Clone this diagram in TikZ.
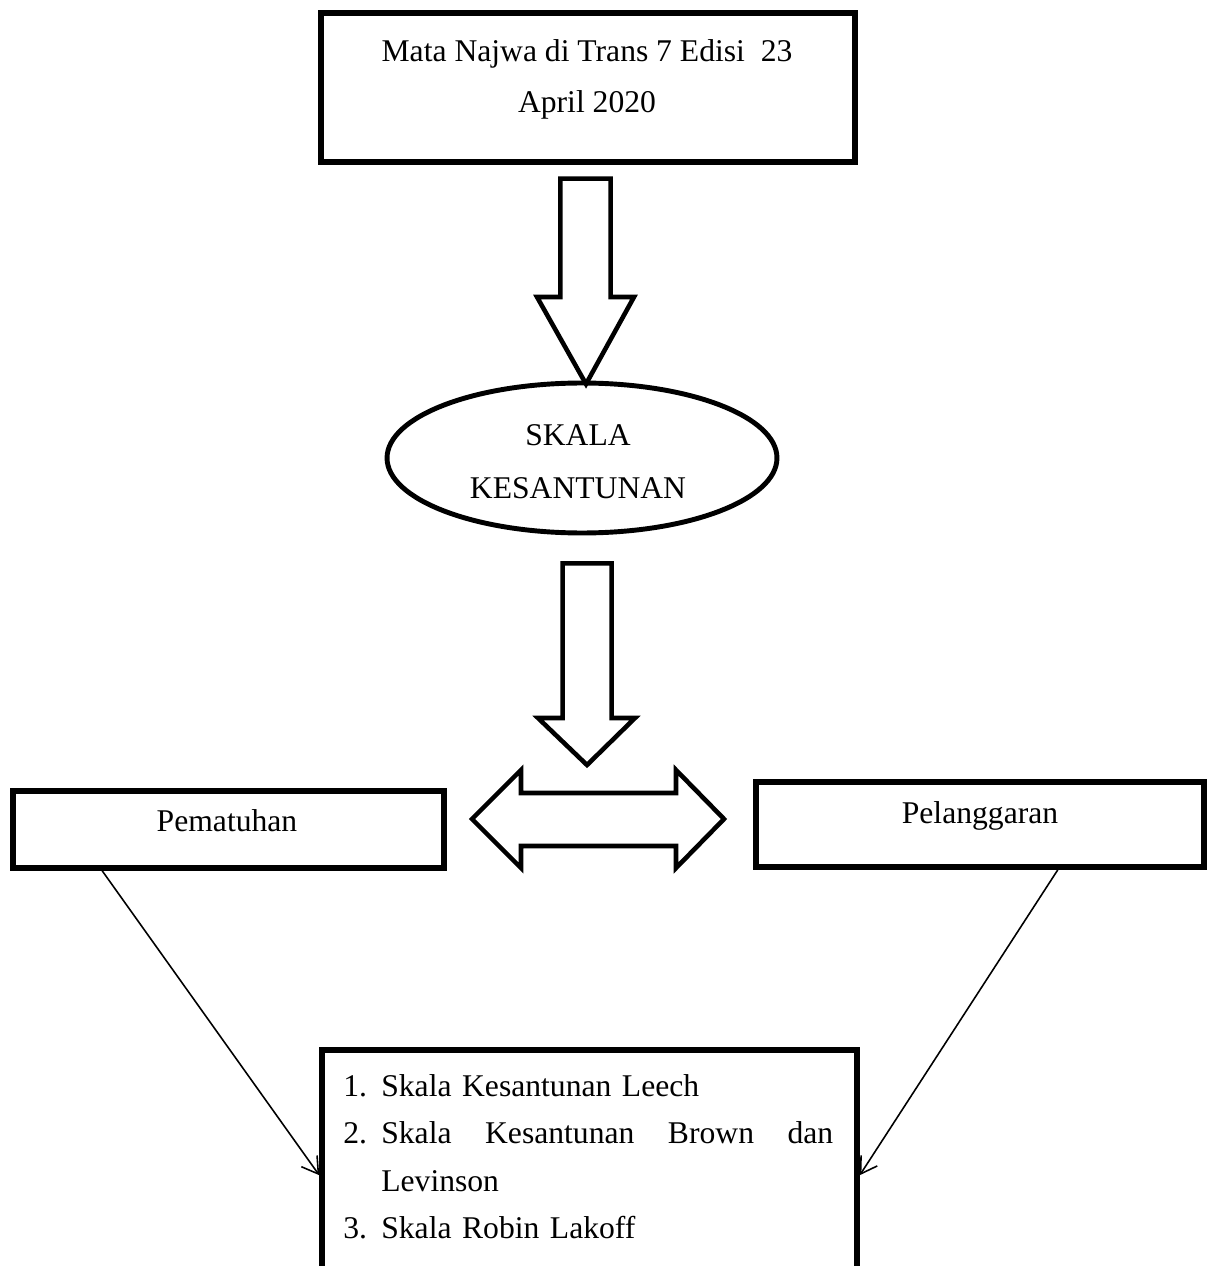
\documentclass[tikz,border=0pt]{standalone}
\usepackage{fontspec}
\setmainfont{Liberation Serif}
\usetikzlibrary{shapes.geometric,arrows.meta}
\begin{document}
\begin{tikzpicture}[x=0.02cm, y=-0.02cm, font=\fontsize{18}{25}\selectfont,
  kotak/.style={draw, line width=3.2pt, inner sep=0pt},
  panah/.style={draw, line width=2.6pt},
  garis/.style={line width=0.9pt, -{Straight Barb[length=9pt, width=11pt]}}]
\useasboundingbox (0,0) rectangle (1214,1266);
\clip (0,0) rectangle (1214,1266);
% sumber data
\node[kotak, minimum width=10.68cm, minimum height=2.98cm] (sumber) at (588,87.5) {};
\node[anchor=north, align=center, inner sep=0pt, font=\fontsize{18}{29}\selectfont] (judul) at (587,39.4) {Mata Najwa di Trans 7 Edisi\ \ 23\\April 2020};
\draw[panah] (560.3,178.7) -- (610.7,178.7) -- (610.7,297) -- (634,297) -- (586,384) -- (537,297) -- (560.3,297) -- cycle;
% teori
\node[ellipse, draw, line width=2.8pt, minimum width=7.8cm, minimum height=3cm, inner sep=0pt] (skala) at (582,458) {};
\node[align=center, inner sep=0pt, font=\fontsize{18}{30}\selectfont] (tskala) at (578,462) {SKALA\\KESANTUNAN};
\draw[panah] (562.7,563.3) -- (611.7,563.3) -- (611.7,718) -- (635,718) -- (587,765) -- (538,718) -- (562.7,718) -- cycle;
\draw[panah] (472,819) -- (521,770) -- (521,793) -- (676,793) -- (676,770) -- (724,819) -- (676,868) -- (676,846) -- (521,846) -- (521,868) -- cycle;
% hasil
\node[kotak, minimum width=8.62cm, minimum height=1.54cm] (patuh) at (228.5,829.5) {};
\node[anchor=base] (tpatuh) at (227,831) {Pematuhan};
\node[kotak, minimum width=8.96cm, minimum height=1.7cm] (langgar) at (980,824.5) {};
\node[anchor=base] (tlanggar) at (980,823) {Pelanggaran};
\node[kotak, minimum width=10.7cm, minimum height=5cm] (jenis) at (589.5,1175) {};
\node[anchor=north west, text width=9.8cm, align=left, inner sep=0pt, font=\fontsize{18}{27}\selectfont] (daftar) at (343,1074)
  {\makebox[0.76cm][l]{1.}Skala Kesantunan Leech\\
   \makebox[0.76cm][l]{2.}\makebox[9.04cm][s]{Skala\hfill Kesantunan\hfill Brown\hfill dan}\\
   \hspace*{0.76cm}Levinson\\
   \makebox[0.76cm][l]{3.}Skala Robin Lakoff};
\draw[garis] ([xshift=1.84cm]patuh.south west) -- ([yshift=-2.56cm]jenis.north west);
\draw[garis] ([xshift=-2.98cm]langgar.south east) -- ([yshift=-2.56cm]jenis.north east);
\end{tikzpicture}
\end{document}
